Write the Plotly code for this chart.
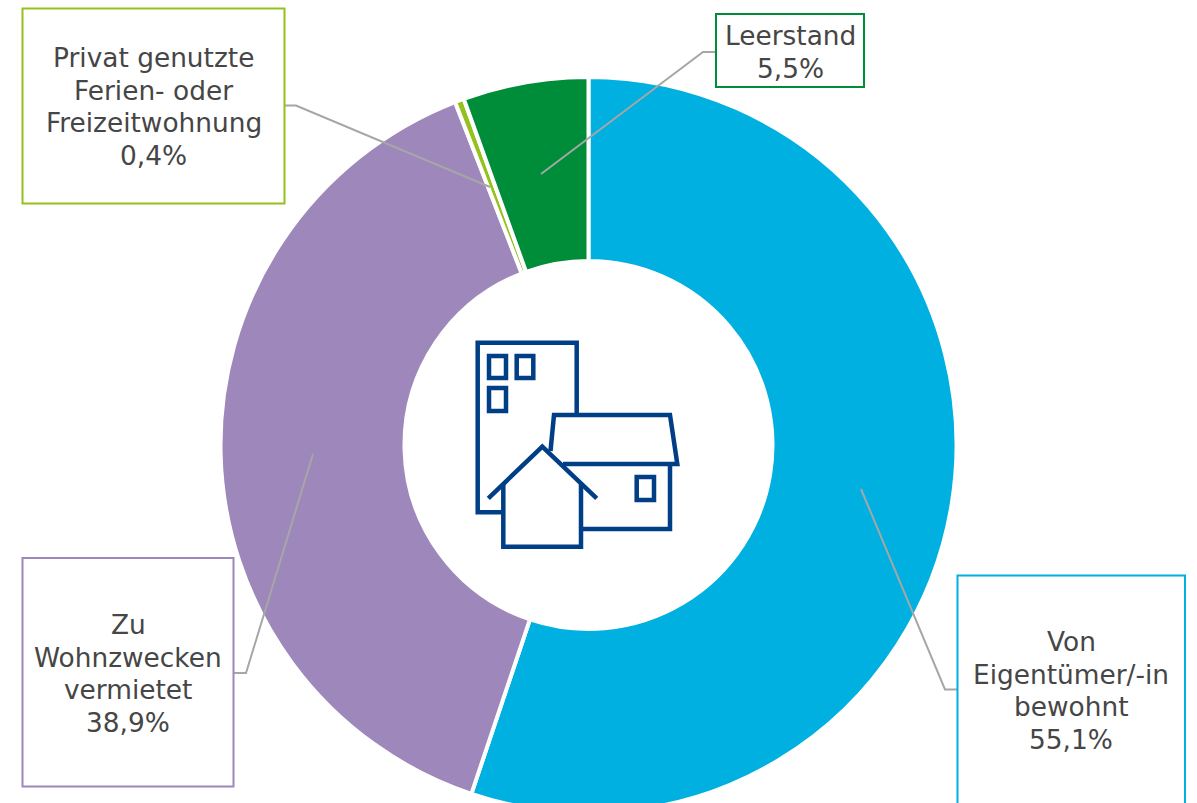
import plotly.graph_objects as go

W, H = 1197, 888  # taller than the window: the ring runs past the bottom edge

categories = [["Von", "Eigentümer/-in", "bewohnt"], ["Zu", "Wohnzwecken", "vermietet"],
              ["Privat genutzte", "Ferien- oder", "Freizeitwohnung"], ["Leerstand"]]
values = [55.1, 38.9, 0.4, 5.5]
colors = ["#00B0E0", "#9E88BB", "#95C11F", "#008D3A"]
value_labels = ["55,1%", "38,9%", "0,4%", "5,5%"]

TEXT = "#464646"
GREY = "#A6A6A6"
ICON = "#003E85"
LINE_STEP = 32.6


def px(x):
    return x / W


def py(y):
    return 1 - y / H


def path(points, close=False):
    s = "M " + " L ".join(f"{px(x):.5f},{py(y):.5f}" for x, y in points)
    return s + (" Z" if close else "")


fig = go.Figure(go.Pie(
    labels=[" ".join(c) for c in categories], values=values, sort=False,
    direction="clockwise", rotation=0,
    hole=0.5, textinfo="none", showlegend=False,
    marker=dict(colors=colors, line=dict(color="white", width=4)),
    domain=dict(x=[px(220.5), px(956.5)], y=[py(813), py(77)]),
))

shapes = []

# label boxes: x0, y0, x1, y1, text centre x, text centre y
boxes = [
    (957.5, 575.5, 1185, 830, 1071, 690.5),
    (22.5, 558, 233.5, 786.5, 128, 673.5),
    (22.5, 8.5, 284.5, 203.5, 153.5, 106.5),
    (716, 14, 864, 87, 790, 52),
]
leaders = [
    [(958, 689.5), (945, 689.5), (861, 489)],
    [(234, 673), (246, 673), (313, 454)],
    [(285, 105.5), (296, 105.5), (490, 187)],
    [(716, 52), (703, 52), (541, 174)],
]
for pts in leaders:
    shapes.append(dict(type="path", path=path(pts), xref="paper", yref="paper",
                       line=dict(color=GREY, width=2)))

annotations = []
for (x0, y0, x1, y1, cx, cy), col, cat, val in zip(boxes, colors, categories, value_labels):
    shapes.append(dict(type="rect", x0=px(x0), x1=px(x1), y0=py(y1), y1=py(y0),
                       xref="paper", yref="paper", fillcolor="white",
                       line=dict(color=col, width=2)))
    lines = cat + [val]
    top = cy - LINE_STEP * (len(lines) - 1) / 2
    for i, line in enumerate(lines):
        annotations.append(dict(text=line, x=px(cx), y=py(top + i * LINE_STEP),
                                xref="paper", yref="paper",
                                xanchor="center", yanchor="middle", align="center",
                                showarrow=False,
                                font=dict(family="DejaVu Sans", size=26.4, color=TEXT)))

# building icon in the middle of the ring
icon_paths = [
    ([(576.7, 415), (576.7, 342.7), (477.7, 342.7), (477.7, 512.3), (502, 512.3)], False),
    ([(489, 356), (506, 356), (506, 378), (489, 378)], True),
    ([(516.7, 356), (533.3, 356), (533.3, 378), (516.7, 378)], True),
    ([(489, 388), (506, 388), (506, 411), (489, 411)], True),
    ([(550.5, 451), (554, 415), (670, 415), (677.3, 464), (563, 464)], False),
    ([(670, 464), (670, 529), (581.7, 529)], False),
    ([(636.7, 477), (654, 477), (654, 500), (636.7, 500)], True),
    ([(488.3, 498.3), (542.3, 446.7), (596.7, 498.3)], False),
    ([(503.3, 484), (503.3, 546.7), (581, 546.7), (581, 484)], False),
]
for pts, closed in icon_paths:
    shapes.append(dict(type="path", path=path(pts, closed), xref="paper", yref="paper",
                       line=dict(color=ICON, width=4.5)))

fig.update_layout(
    width=W, height=H, margin=dict(l=0, r=0, t=0, b=0),
    paper_bgcolor="white", plot_bgcolor="white",
    shapes=shapes, annotations=annotations,
)

fig.write_html(
    "out.html",
    config={"displayModeBar": False},
    post_script="document.documentElement.style.overflow='hidden';"
                "document.body.style.overflow='hidden';document.body.style.margin='0';",
)
